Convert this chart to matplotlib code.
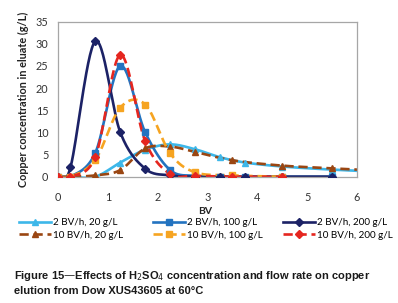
import numpy as np
import matplotlib
matplotlib.use('Agg')
import matplotlib.pyplot as plt
from matplotlib.lines import Line2D

# data (BV vs copper g/L)
x_2bv = [0, 0.25, 0.75, 1.25, 1.75, 2.25, 2.75, 3.25, 3.75, 4.5, 5.5]
x_2bv_20 = [0, 0.25, 0.75, 1.25, 1.75, 2.25, 2.75, 3.25, 3.75, 4.5, 5.5, 6.5]
x_10bv = [0, 0.25, 0.75, 1.25, 1.75, 2.25, 2.75, 3.5, 4.5]
x_10bv_20 = [0, 0.25, 0.75, 1.25, 1.75, 2.25, 2.75, 3.5, 4.5, 5.5, 6.5]

cu_2bv_20 = [0, 0, 0, 3.2, 6.1, 7.3, 6.2, 4.4, 3.2, 2.3, 1.6, 1.1]
cu_2bv_100 = [0, 0, 5.4, 25.0, 10.0, 1.5, 0.2, 0, 0, 0, 0]
cu_2bv_200 = [0, 2.1, 30.6, 10.0, 1.8, 0.3, 0, 0, 0, 0, 0]
cu_10bv_20 = [0, 0, 0.3, 1.5, 6.4, 6.8, 5.6, 3.7, 2.5, 1.9, 1.3]
cu_10bv_100 = [0, 0, 3.8, 15.6, 16.3, 5.3, 1.0, 0.3, 0]
cu_10bv_200 = [0, 0, 4.5, 27.5, 8.0, 0.6, 0.2, 0, 0]

labels = ['2 BV/h, 20 g/L', '2 BV/h, 100 g/L', '2 BV/h, 200 g/L',
          '10 BV/h, 20 g/L', '10 BV/h, 100 g/L', '10 BV/h, 200 g/L']


def smooth(xs, ys, n=30):
    # excel-like smoothed line: bezier through points, catmull-rom tangents
    p = np.column_stack([xs, ys]).astype(float)
    ext = np.vstack([p[0], p, p[-1]])
    out = []
    t = np.linspace(0, 1, n)[:, None]
    for i in range(len(p) - 1):
        p0, p1, p2, p3 = ext[i], ext[i + 1], ext[i + 2], ext[i + 3]
        c1 = p1 + (p2 - p0) / 6
        c2 = p2 - (p3 - p1) / 6
        seg = ((1 - t) ** 3) * p1 + 3 * ((1 - t) ** 2) * t * c1 \
            + 3 * (1 - t) * t ** 2 * c2 + t ** 3 * p2
        out.append(seg)
    out = np.vstack(out)
    return out[:, 0], out[:, 1]


fig = plt.figure(figsize=(3.98, 3.03), dpi=100)
ax = fig.add_axes([58 / 398, 1 - 176.7 / 303, 299 / 398, 155 / 303])

font = ['Lato', 'DejaVu Sans']
series = [
    (x_2bv_20, cu_2bv_20, '#3DB7E9', '^', '-'),
    (x_2bv, cu_2bv_100, '#2373C0', 's', '-'),
    (x_2bv, cu_2bv_200, '#1C2266', 'D', '-'),
    (x_10bv_20, cu_10bv_20, '#9A4612', '^', (0, (3.5, 1.8))),
    (x_10bv, cu_10bv_100, '#F6A421', 's', (0, (3.5, 1.8))),
    (x_10bv, cu_10bv_200, '#E5261F', 'D', (0, (3.5, 1.8))),
]

handles = []
for xs, ys, col, mk, ls in series:
    sx, sy = smooth(xs, ys)
    ax.plot(sx, sy, color=col, lw=1.9, ls=ls, zorder=2)
    msize = 4.2 if mk == 'D' else 5
    ax.plot(xs, ys, ls='none', marker=mk, color=col, ms=msize, zorder=3, clip_on=True)
    handles.append(Line2D([], [], color=col, lw=1.9, ls=ls, marker=mk, ms=msize))

ax.set_xlim(0, 6)
ax.set_ylim(0, 35)
ax.set_xticks(range(0, 7))
ax.set_yticks(range(0, 36, 5))
ax.tick_params(length=0, labelsize=7.8, colors='#333333')
ax.tick_params(axis='x', pad=11)
ax.tick_params(axis='y', pad=7)
for lab in ax.get_xticklabels() + ax.get_yticklabels():
    lab.set_family(font)
for s in ax.spines.values():
    s.set_color('#A6A6A6')
    s.set_linewidth(0.9)

ax.set_ylabel('Copper concentration in eluate (g/L)', fontsize=7.8, fontweight='bold',
              family=font, color='#222222', labelpad=5)
fig.text(205 / 398, 1 - 212 / 303, 'BV', fontsize=7.5, fontweight='bold', family=font,
         ha='center', va='center', color='#222222')

# legend, one block per column
col_x = [19, 153, 283]
for c in range(3):
    fig.legend([handles[c], handles[c + 3]], [labels[c], labels[c + 3]],
               loc='upper left', bbox_to_anchor=(col_x[c] / 398, 1 - 218 / 303),
               frameon=False, handlelength=3.2, handletextpad=0.25, labelspacing=0.4,
               borderaxespad=0, borderpad=0, prop={'family': font, 'size': 7.1})

cap = 'Figure 15\u2014Effects of H$_2$SO$_4$ concentration and flow rate on copper\n' \
      'elution from Dow XUS43605 at 60\u00b0C'
fig.text(14 / 398, 1 - 269 / 303, cap, fontsize=8, fontweight='bold',
         family=['Liberation Sans', 'DejaVu Sans'], ha='left', va='top',
         color='#1a1a1a', linespacing=1.35)

fig.savefig('out.png', dpi=100)
